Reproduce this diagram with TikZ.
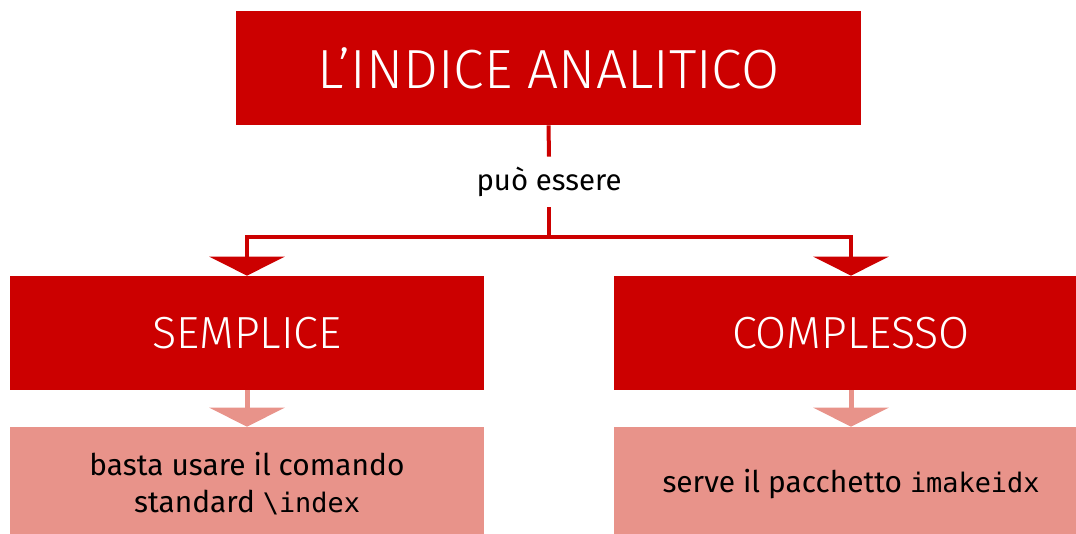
\documentclass[tikz,border=0pt]{standalone}
\usepackage{fontspec}
\setmainfont{Fira Sans}
\newfontfamily\thinfont{Fira Sans Light}
\setmonofont{DejaVu Sans Mono}[Scale=0.9]
\usepackage{xcolor}
\usetikzlibrary{arrows.meta,positioning}
\definecolor{boxred}{HTML}{CC0000}
\definecolor{boxpink}{HTML}{E8938A}

\begin{document}
\begin{tikzpicture}[
        x=0.02cm, y=-0.02cm,
        head/.style={rectangle, fill=boxred, text=white, inner sep=0pt,
                     minimum width=12.5cm, minimum height=2.28cm,
                     font=\thinfont\fontsize{31.4}{36}\selectfont},
        kind/.style={rectangle, fill=boxred, text=white, inner sep=0pt,
                     minimum width=9.48cm, minimum height=2.28cm,
                     font=\thinfont\fontsize{25.6}{30}\selectfont},
        note/.style={rectangle, fill=boxpink, text=black, inner sep=0pt,
                     minimum width=9.48cm, minimum height=2.28cm, align=center,
                     font=\fontsize{17}{21}\selectfont},
        verb/.style={inner sep=0pt, minimum height=1cm,
                     font=\fontsize{16.7}{19}\selectfont},
        redline/.style={line width=0.08cm, boxred},
        redarr/.style={line width=0.08cm, boxred,
                       -{Triangle[width=1.5cm, length=0.38cm]}},
        pinkarr/.style={line width=0.1cm, boxpink,
                        -{Triangle[width=1.5cm, length=0.38cm]}}
    ]
        \clip (0,0) rectangle (1076,534);
        \useasboundingbox (0,0) rectangle (1076,534);

        %--- Boxes ---
        \node[head] (idx) at (548.5,68) {L’INDICE ANALITICO};
        \node[verb] (pe) at (549,182) {può essere};
        \node[kind] (semp) at (247,333) {SEMPLICE};
        \node[kind] (comp) at (851,333) {COMPLESSO};
        \node[note] (sdesc) at (247,484)
            {basta usare il comando\\standard \texttt{\textbackslash index}};
        \node[note] (cdesc) at (851,484)
            {serve il pacchetto \texttt{imakeidx}};

        %--- Connectors ---
        \coordinate (fork) at (549,237);
        \draw[redline] (idx.south) -- (pe.north);
        \draw[redarr] (pe.south) -- (fork) -| (semp.north);
        \draw[redarr] (fork) -| (comp.north);
        \draw[pinkarr] (semp.south) -- (sdesc.north);
        \draw[pinkarr] (comp.south) -- (cdesc.north);
    \end{tikzpicture}
\end{document}
